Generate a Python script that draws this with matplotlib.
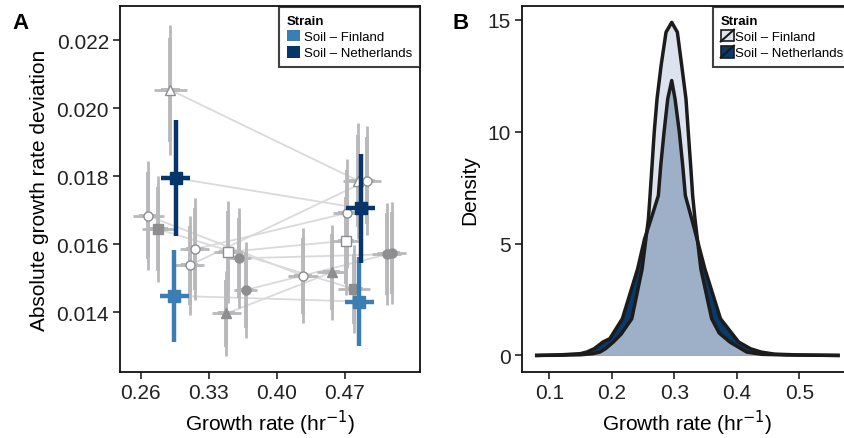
import matplotlib
matplotlib.use("Agg")
import matplotlib.pyplot as plt
from matplotlib.lines import Line2D
from matplotlib.patches import Patch
from matplotlib.legend_handler import HandlerPatch

plt.rcParams['font.family'] = ['Liberation Sans', 'DejaVu Sans']

# ---- panel A data: gray strains (low growth -> high growth)
g_marker = ['^', 'o', 's', 'o', 'o', 's', 'o', 'o', '^']
g_filled = [False, False, True, False, False, False, True, True, True]
g_x1 = [0.2906, 0.2676, 0.2779, 0.3156, 0.3104, 0.3499, 0.3609, 0.3678, 0.3482]
g_y1 = [0.02053, 0.01683, 0.01644, 0.01585, 0.01538, 0.01577, 0.01558, 0.01465, 0.01396]
g_xe1 = [0.0165, 0.016, 0.017, 0.015, 0.015, 0.015, 0.012, 0.012, 0.015]
g_ye1 = [0.0019, 0.0016, 0.00155, 0.0015, 0.00145, 0.0015, 0.00147, 0.0014, 0.00124]
g_x2 = [0.4837, 0.4271, 0.4793, 0.4717, 0.4924, 0.4710, 0.5130, 0.5180, 0.4563]
g_y2 = [0.01786, 0.01507, 0.01468, 0.01691, 0.01786, 0.01610, 0.01570, 0.01573, 0.01517]
g_xe2 = [0.0155, 0.0155, 0.016, 0.014, 0.015, 0.014, 0.015, 0.015, 0.015]
g_ye2 = [0.0017, 0.0014, 0.0013, 0.0016, 0.0016, 0.0016, 0.0015, 0.0015, 0.0014]

# highlighted strains
b_names = ['Soil – Finland', 'Soil – Netherlands']
b_colors = ['#3b7eb4', '#06356a']
b_x1 = [0.2947, 0.2960]
b_y1 = [0.01448, 0.01794]
b_ye1 = [0.00135, 0.0017]
b_x2 = [0.4848, 0.4862]
b_y2 = [0.01431, 0.01705]
b_ye2 = [0.0013, 0.0016]
b_xe = [0.015, 0.015]

# ---- panel B data: density of growth rates
fin_x = [0.08, 0.12, 0.15, 0.17, 0.181, 0.19, 0.2027, 0.215, 0.2321, 0.2487,
         0.2587, 0.2613, 0.2645, 0.268, 0.2725, 0.279, 0.2869, 0.296, 0.305,
         0.312, 0.3188, 0.3225, 0.3263, 0.3295, 0.3332, 0.3426, 0.3599, 0.372,
         0.389, 0.416, 0.44, 0.48, 0.52, 0.562]
fin_y = [0, 0.01, 0.03, 0.08, 0.15, 0.3, 0.6, 0.95, 1.64, 3.87,
         6.1, 7.14, 8.48, 9.97, 11.46, 12.95, 14.44, 14.88, 14.44,
         12.95, 11.46, 9.97, 8.48, 7.14, 6.1, 3.87, 1.64, 1.0,
         0.6, 0.15, 0.05, 0.02, 0.01, 0]
net_x = [0.08, 0.12, 0.15, 0.16, 0.172, 0.186, 0.197, 0.217, 0.2415, 0.2525,
         0.263, 0.2746, 0.2784, 0.2837, 0.2896, 0.296, 0.3013, 0.3082, 0.3136,
         0.3178, 0.328, 0.349, 0.374, 0.403, 0.422, 0.439, 0.46, 0.50, 0.562]
net_y = [0, 0.03, 0.08, 0.15, 0.3, 0.6, 0.75, 1.64, 3.87, 5.2,
         6.1, 7.14, 8.48, 9.97, 11.46, 12.28, 11.46, 9.97, 8.48,
         7.14, 6.1, 3.87, 1.64, 0.6, 0.3, 0.15, 0.06, 0.02, 0]

gray_bar = '#b9b9bc'
gray_pt = '#8e8e90'
link = '#dadada'


def gray_point(ax, x, y, xe, ye, marker, filled):
    # outer (thin) and inner (thick) parts of the bars
    ax.plot([x, x], [y - ye, y + ye], color=gray_bar, lw=2.0, solid_capstyle='butt', zorder=2)
    ax.plot([x, x], [y - ye * 0.8, y + ye * 0.8], color=gray_bar, lw=2.8, solid_capstyle='butt', zorder=2)
    ax.plot([x - xe, x + xe], [y, y], color=gray_bar, lw=2.0, solid_capstyle='butt', zorder=2)
    ax.plot([x - xe * 0.6, x + xe * 0.6], [y, y], color=gray_bar, lw=2.8, solid_capstyle='butt', zorder=2)
    ax.plot(x, y, marker=marker, ms=6.5, mfc=gray_pt if filled else 'white',
            mec=gray_pt, mew=1.0, zorder=3)


class SlashHandler(HandlerPatch):
    def create_artists(self, legend, orig_handle, xdescent, ydescent, width, height, fontsize, trans):
        arts = super().create_artists(legend, orig_handle, xdescent, ydescent, width, height, fontsize, trans)
        ln = Line2D([-xdescent, -xdescent + width], [-ydescent, -ydescent + height],
                    color='#1a1a1a', lw=1.5, transform=trans)
        return arts + [ln]


fig = plt.figure(figsize=(8.45, 4.39), dpi=100)
axA = fig.add_axes([120 / 845, 1 - 373 / 439, 300 / 845, 366 / 439])
axB = fig.add_axes([521.7 / 845, 1 - 373 / 439, 331.3 / 845, 366 / 439])

# ---- panel A
for i in range(len(g_x1)):
    axA.plot([g_x1[i], g_x2[i]], [g_y1[i], g_y2[i]], color=link, lw=1.3, zorder=1)
for i in range(len(b_x1)):
    axA.plot([b_x1[i], b_x2[i]], [b_y1[i], b_y2[i]], color=link, lw=1.3, zorder=1)
for i in range(len(g_x1)):
    gray_point(axA, g_x1[i], g_y1[i], g_xe1[i], g_ye1[i], g_marker[i], g_filled[i])
    gray_point(axA, g_x2[i], g_y2[i], g_xe2[i], g_ye2[i], g_marker[i], g_filled[i])
for i in range(len(b_x1)):
    for x, y, ye in [(b_x1[i], b_y1[i], b_ye1[i]), (b_x2[i], b_y2[i], b_ye2[i])]:
        axA.errorbar(x, y, xerr=b_xe[i], yerr=ye, fmt='s', ms=8, color=b_colors[i],
                     elinewidth=3.2, capsize=0, zorder=4)

axA.set_xlim(0.2387, 0.5472)
axA.set_ylim(0.01224, 0.023)
axA.set_xticks([0.26, 0.33, 0.40, 0.47])
axA.set_xticklabels(['0.26', '0.33', '0.40', '0.47'])
axA.set_yticks([0.014, 0.016, 0.018, 0.020, 0.022])
axA.set_yticklabels(['0.014', '0.016', '0.018', '0.020', '0.022'])
axA.set_xlabel('Growth rate (hr$^{-1}$)', fontsize=15, labelpad=4)
axA.set_ylabel('Absolute growth rate deviation', fontsize=15, labelpad=5)

leg_kw = dict(title='Strain', fontsize=9.5, title_fontproperties={'weight': 'bold', 'size': 9.5},
              alignment='left', frameon=True, fancybox=False, borderaxespad=0.0,
              handlelength=1.0, handleheight=1.0, labelspacing=0.2, borderpad=0.6)

hA = [Patch(facecolor=c, edgecolor='none') for c in b_colors]
legA = axA.legend(hA, b_names, loc='upper right', bbox_to_anchor=(1.0, 0.997),
                  handletextpad=0.3, **leg_kw)
legA.get_frame().set_edgecolor('#111111')
legA.get_frame().set_linewidth(1.5)

# ---- panel B
axB.fill_between(net_x, net_y, color='#0a3a6a', lw=0, zorder=1)
axB.plot(net_x, net_y, color='#1c1c1c', lw=2.5, zorder=3)
axB.fill_between(fin_x, fin_y, color='#d1dae9', alpha=0.74, lw=0, zorder=2)
axB.plot(fin_x, fin_y, color='#1c1c1c', lw=2.5, zorder=3)

axB.set_xlim(0.056, 0.586)
axB.set_ylim(-0.74, 15.61)
axB.set_xticks([0.1, 0.2, 0.3, 0.4, 0.5])
axB.set_xticklabels(['0.1', '0.2', '0.3', '0.4', '0.5'])
axB.set_yticks([0, 5, 10, 15])
axB.set_xlabel('Growth rate (hr$^{-1}$)', fontsize=15, labelpad=4)
axB.set_ylabel('Density', fontsize=15, labelpad=6)

hB = [Patch(facecolor='#dfe5ef', edgecolor='#1a1a1a', lw=1.2),
      Patch(facecolor='#0a3a6a', edgecolor='#1a1a1a', lw=1.2)]
legB = axB.legend(hB, b_names, loc='upper left', bbox_to_anchor=(0.577, 0.997),
                  handletextpad=0.1, handler_map={Patch: SlashHandler()}, **leg_kw)
legB.get_frame().set_edgecolor('#111111')
legB.get_frame().set_linewidth(1.5)

for ax in (axA, axB):
    for sp in ax.spines.values():
        sp.set_linewidth(1.3)
        sp.set_color('#111111')
    ax.tick_params(direction='out', length=5, width=1.1, labelsize=15, color='#111111',
                   labelcolor='#222222', pad=3)

fig.text(12 / 845, 1 - 29 / 439, 'A', fontsize=16, fontweight='bold')
fig.text(453 / 845, 1 - 29 / 439, 'B', fontsize=16, fontweight='bold')

fig.savefig('out.png', dpi=100)
